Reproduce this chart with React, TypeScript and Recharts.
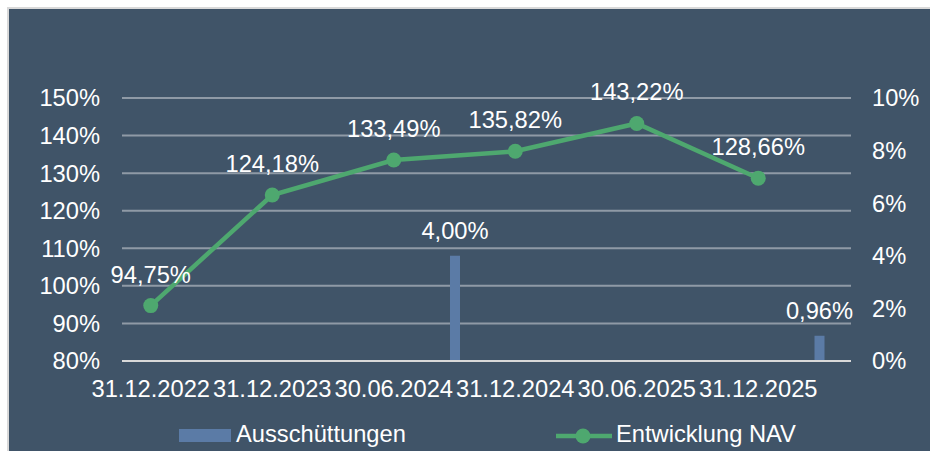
import {
  Bar,
  CartesianGrid,
  ComposedChart,
  LabelList,
  Line,
  XAxis,
  YAxis,
} from 'recharts'

// Stichtage, NAV-Entwicklung (linke Achse) und Ausschüttungen (rechte Achse)
const dates = ['31.12.2022', '31.12.2023', '30.06.2024', '31.12.2024', '30.06.2025', '31.12.2025']
const nav = [94.75, 124.18, 133.49, 135.82, 143.22, 128.66]
const distributions: (number | null)[] = [null, null, 4.0, null, null, 0.96]
const leftTicks = [80, 90, 100, 110, 120, 130, 140, 150]
const rightTicks = [0, 2, 4, 6, 8, 10]

const data = dates.map((d, i) => ({ date: d, nav: nav[i], dist: distributions[i] }))

const BG = '#405468'
const GREEN = '#4ea86f'
const BLUE = '#5b7ba6'
const FONT = '"Liberation Sans", Arial, sans-serif'
const FS = 23.7
const tick = { fill: '#ffffff', fontSize: FS, fontFamily: FONT }

const pct = (v: unknown) => (v == null ? '' : `${Number(v).toFixed(2).replace('.', ',')}%`)

export default function App() {
  return (
    <div style={{ position: 'relative', width: 930, height: 451, overflow: 'hidden', background: '#fff' }}>
      <style>{'body{margin:0;overflow:hidden}'}</style>
      <div
        style={{
          position: 'absolute', left: 7, top: 7, width: 940, height: 460,
          borderTop: '2px solid #d9d9d9', borderLeft: '2px solid #d9d9d9', background: BG,
        }}
      >
        <ComposedChart width={921} height={442} data={data} margin={{ top: 89, right: 0, left: 0, bottom: 50 }}>
          <CartesianGrid xAxisId="main" yAxisId="left" vertical={false} stroke="#8f9aa6" strokeWidth={2} />
          <XAxis
            xAxisId="main" dataKey="date" interval={0} tickSize={0} tickMargin={19} height={40}
            padding={{ left: -32, right: 32 }} tick={tick}
            axisLine={{ stroke: '#d9d9d9', strokeWidth: 2 }} tickLine={false}
          />
          <XAxis xAxisId="bars" dataKey="date" hide height={0} padding={{ left: 29, right: -29 }} />
          <YAxis
            yAxisId="left" domain={[80, 150]} ticks={leftTicks} width={113} tickSize={0} tickMargin={22}
            tickFormatter={(v) => `${v}%`} tick={tick} axisLine={false} tickLine={false}
          />
          <YAxis
            yAxisId="right" orientation="right" domain={[0, 10]} ticks={rightTicks} width={79} tickSize={0}
            tickMargin={21} tickFormatter={(v) => `${v}%`} tick={tick} axisLine={false} tickLine={false}
          />
          <Bar xAxisId="bars" yAxisId="right" dataKey="dist" fill={BLUE} barSize={10} isAnimationActive={false}>
            <LabelList dataKey="dist" position="top" offset={17} formatter={pct} fill="#fff" fontSize={FS} fontFamily={FONT} />
          </Bar>
          <Line
            xAxisId="main" yAxisId="left" dataKey="nav" stroke={GREEN} strokeWidth={4.5}
            dot={{ r: 7.5, fill: GREEN, stroke: 'none' }} isAnimationActive={false}
          >
            <LabelList dataKey="nav" position="top" offset={23} formatter={pct} fill="#fff" fontSize={FS} fontFamily={FONT} />
          </Line>
        </ComposedChart>
      </div>
      {/* Legende */}
      <div style={{ position: 'absolute', left: 179, top: 429, width: 52, height: 13, background: BLUE }} />
      <div style={{ position: 'absolute', left: 236, top: 421, color: '#fff', fontSize: FS, fontFamily: FONT, lineHeight: '26px' }}>
        Ausschüttungen
      </div>
      <svg style={{ position: 'absolute', left: 552, top: 425 }} width={64} height={22}>
        <line x1={4} y1={11} x2={60} y2={11} stroke={GREEN} strokeWidth={4.5} />
        <circle cx={31} cy={11} r={7.5} fill={GREEN} />
      </svg>
      <div style={{ position: 'absolute', left: 616, top: 421, color: '#fff', fontSize: FS, fontFamily: FONT, lineHeight: '26px' }}>
        Entwicklung NAV
      </div>
    </div>
  )
}
